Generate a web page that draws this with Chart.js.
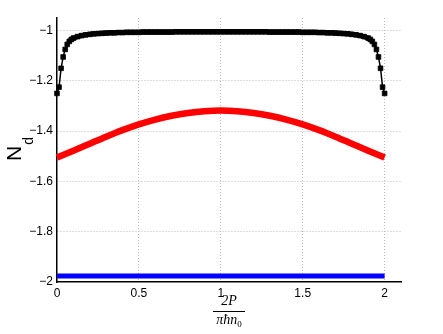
<!DOCTYPE html>
<html>
<head>
<meta charset="utf-8">
<script src="https://cdn.jsdelivr.net/npm/chart.js@4/dist/chart.umd.min.js"></script>
<style>
  html, body { margin: 0; padding: 0; background: #fff; }
  #wrap { width: 443px; height: 334px; }
</style>
</head>
<body>
<div id="wrap"><canvas id="myChart" width="443" height="334"></canvas></div>
<script>
// tick labels
var xTicks = [0, 0.5, 1, 1.5, 2];
var yTicks = [-2, -1.8, -1.6, -1.4, -1.2, -1];

// black curve (square markers)
var blackX = [0, 0.0125, 0.025, 0.0375, 0.05, 0.0625, 0.075, 0.0875, 0.1,
    0.125, 0.15, 0.175, 0.2, 0.225, 0.25, 0.275, 0.3, 0.325, 0.35, 0.375, 0.4,
    0.425, 0.45, 0.475, 0.5, 0.525, 0.55, 0.575, 0.6, 0.625, 0.65, 0.675, 0.7,
    0.725, 0.75, 0.775, 0.8, 0.825, 0.85, 0.875, 0.9, 0.925, 0.95, 0.975, 1,
    1.025, 1.05, 1.075, 1.1, 1.125, 1.15, 1.175, 1.2, 1.225, 1.25, 1.275, 1.3,
    1.325, 1.35, 1.375, 1.4, 1.425, 1.45, 1.475, 1.5, 1.525, 1.55, 1.575, 1.6,
    1.625, 1.65, 1.675, 1.7, 1.725, 1.75, 1.775, 1.8, 1.825, 1.85, 1.875, 1.9,
    1.9125, 1.925, 1.9375, 1.95, 1.9625, 1.975, 1.9875, 2];
var blackY = [-1.250, -1.225, -1.150, -1.105, -1.075, -1.055, -1.043, -1.035, -1.030,
    -1.024, -1.020, -1.017, -1.015, -1.013, -1.012, -1.011, -1.010, -1.009, -1.009, -1.008, -1.008,
    -1.007, -1.007, -1.007, -1.007, -1.006, -1.006, -1.006, -1.006, -1.006, -1.006, -1.006, -1.006,
    -1.005, -1.005, -1.005, -1.005, -1.005, -1.005, -1.005, -1.005, -1.005, -1.005, -1.005, -1.005,
    -1.005, -1.005, -1.005, -1.005, -1.005, -1.005, -1.005, -1.005, -1.005, -1.005, -1.005, -1.006,
    -1.006, -1.006, -1.006, -1.006, -1.006, -1.006, -1.006, -1.007, -1.007, -1.007, -1.007, -1.008,
    -1.008, -1.009, -1.009, -1.010, -1.011, -1.012, -1.013, -1.015, -1.017, -1.020, -1.024, -1.030,
    -1.035, -1.043, -1.055, -1.075, -1.105, -1.150, -1.225, -1.250];

// red curve
var redX = [0, 0.1, 0.2, 0.3, 0.4, 0.5, 0.6, 0.7, 0.8, 0.9, 1,
    1.1, 1.2, 1.3, 1.4, 1.5, 1.6, 1.7, 1.8, 1.9, 2];
var redY = [-1.505, -1.478, -1.450, -1.422, -1.396, -1.373, -1.354, -1.339, -1.328, -1.321, -1.318,
    -1.321, -1.328, -1.339, -1.354, -1.373, -1.396, -1.422, -1.450, -1.478, -1.505];

// blue line
var blueX = [0, 0.5, 1, 1.5, 2];
var blueY = [-1.976, -1.976, -1.976, -1.976, -1.976];

function pts(xs, ys) {
    var out = [];
    for (var i = 0; i < xs.length; i++) out.push({x: xs[i], y: ys[i]});
    return out;
}

function minus(v) {
    return v < 0 ? '\u2212' + Math.abs(v) : String(v);
}

var axisLabels = {
    id: 'axisLabels',
    afterDraw: function(chart) {
        var ctx = chart.ctx;
        var area = chart.chartArea;
        var cx = (area.left + area.right) / 2;
        ctx.save();
        ctx.fillStyle = '#000';
        ctx.strokeStyle = '#000';
        // x label: 2P / (pi hbar n_0)
        ctx.textBaseline = 'alphabetic';
        ctx.textAlign = 'center';
        ctx.font = 'italic 14px "Liberation Serif"';
        ctx.fillText('2P', cx, 305);
        ctx.lineWidth = 1;
        ctx.beginPath();
        ctx.moveTo(cx - 16, 311.5);
        ctx.lineTo(cx + 16, 311.5);
        ctx.stroke();
        ctx.textAlign = 'left';
        var w1 = ctx.measureText('\u03c0\u0127n').width;
        ctx.font = '9px "Liberation Serif"';
        var w2 = ctx.measureText('0').width;
        var sx = cx - (w1 + w2) / 2;
        ctx.font = 'italic 14px "Liberation Serif"';
        ctx.fillText('\u03c0\u0127n', sx, 324);
        ctx.font = '9px "Liberation Serif"';
        ctx.fillText('0', sx + w1, 327);
        // y label: N_d
        ctx.translate(21, 161);
        ctx.rotate(-Math.PI / 2);
        ctx.font = '21px "Liberation Sans"';
        ctx.fillText('N', 0, 0);
        var wn = ctx.measureText('N').width;
        ctx.font = '14px "Liberation Sans"';
        ctx.fillText('d', wn + 1, 12);
        ctx.restore();
    }
};

var ctx = document.getElementById('myChart').getContext('2d');
var chart = new Chart(ctx, {
    type: 'scatter',
    data: {
        datasets: [
            {
                label: 'blue',
                data: pts(blueX, blueY),
                showLine: true,
                borderColor: '#0000ff',
                borderWidth: 5,
                pointRadius: 0,
                clip: false
            },
            {
                label: 'red',
                data: pts(redX, redY),
                showLine: true,
                borderColor: '#ff0000',
                borderWidth: 6.5,
                tension: 0.4,
                cubicInterpolationMode: 'monotone',
                pointRadius: 0,
                clip: false
            },
            {
                label: 'black',
                data: pts(blackX, blackY),
                showLine: true,
                borderColor: '#000',
                backgroundColor: '#000',
                borderWidth: 1.5,
                // flat part of the curve looks like a solid band in the original
                segment: {
                    borderWidth: function(c) {
                        return Math.abs(c.p1.y - c.p0.y) < 2.5 ? 5 : 1.5;
                    }
                },
                pointStyle: 'rect',
                pointRadius: 3.3,
                pointBorderWidth: 0.8,
                pointBorderColor: '#000',
                pointBackgroundColor: '#000',
                clip: false
            }
        ]
    },
    options: {
        responsive: false,
        animation: false,
        layout: { padding: { top: 18, right: 42, left: 0, bottom: 0 } },
        plugins: {
            legend: { display: false },
            tooltip: { enabled: false }
        },
        scales: {
            x: {
                type: 'linear',
                min: 0,
                max: 2.1,
                afterBuildTicks: function(scale) {
                    scale.ticks = xTicks.map(function(v) { return {value: v}; });
                },
                afterFit: function(scale) { scale.height = 52; },
                ticks: {
                    color: '#000',
                    padding: 4,
                    maxRotation: 0,
                    font: { family: '"Liberation Sans"', size: 12 },
                    callback: function(v) { return minus(v); }
                },
                grid: {
                    color: function(c) { return c.tick && c.tick.value === 0 ? 'rgba(0,0,0,0)' : '#bdbdbd'; },
                    lineWidth: 1,
                    drawTicks: false
                },
                border: { display: true, color: '#000', width: 1.5, dash: [1, 2] }
            },
            y: {
                type: 'linear',
                min: -2,
                max: -0.95,
                afterBuildTicks: function(scale) {
                    scale.ticks = yTicks.map(function(v) { return {value: v}; });
                },
                afterFit: function(scale) { scale.width = 57; },
                ticks: {
                    color: '#000',
                    padding: 4,
                    font: { family: '"Liberation Sans"', size: 12 },
                    callback: function(v) { return minus(v); }
                },
                grid: {
                    color: function(c) { return c.tick && c.tick.value === -2 ? 'rgba(0,0,0,0)' : '#bdbdbd'; },
                    lineWidth: 1,
                    drawTicks: false
                },
                border: { display: true, color: '#000', width: 1.5, dash: [1, 2] }
            }
        }
    },
    plugins: [axisLabels]
});
</script>
</body>
</html>
